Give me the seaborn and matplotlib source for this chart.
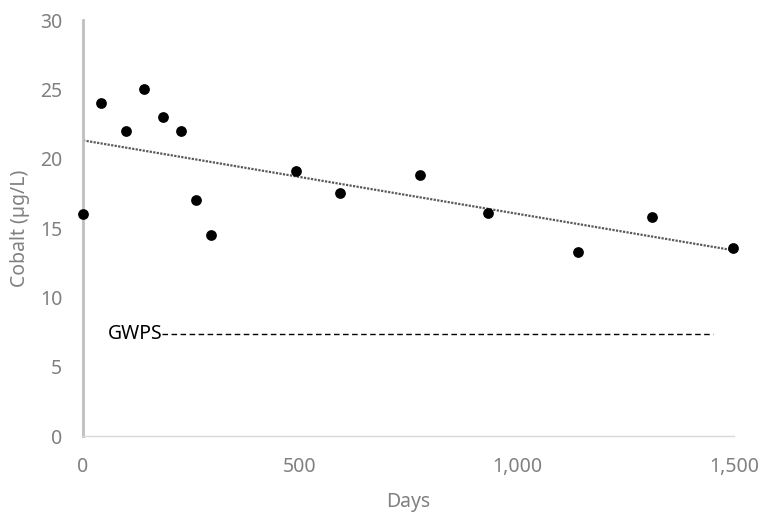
import numpy as np
import pandas as pd
import matplotlib
matplotlib.use("Agg")
import matplotlib.pyplot as plt
import seaborn as sns
from matplotlib.ticker import FuncFormatter

# Cobalt concentrations over time
days = [0, 41, 99, 141, 184, 226, 260, 295, 491, 592, 776, 933, 1140, 1311, 1498]
cobalt = [16.0, 24.0, 22.0, 25.0, 23.0, 22.0, 17.0, 14.5, 19.1, 17.5, 18.8, 16.1, 13.3, 15.8, 13.6]

# Groundwater protection standard reference line
gwps_value = 7.4
gwps_span = [182, 1452]

x_ticks = [0, 500, 1000, 1500]
y_ticks = [0, 5, 10, 15, 20, 25, 30]

df = pd.DataFrame({"Days": days, "Cobalt": cobalt})

sns.set_theme(style="white")
plt.rcParams["font.family"] = ["Noto Sans", "DejaVu Sans"]

fig = plt.figure(figsize=(7.62, 5.15), dpi=100)
ax = fig.add_axes([0.109, 0.153, 0.854, 0.808])

# Linear trendline across the observed range
slope, intercept = np.polyfit(df["Days"], df["Cobalt"], 1)
trend_x = np.array([df["Days"].min(), df["Days"].max()])
sns.lineplot(x=trend_x, y=slope * trend_x + intercept, ax=ax,
             color="#595959", linestyle=(0, (1, 0.6)), linewidth=1.6, zorder=2)

sns.scatterplot(data=df, x="Days", y="Cobalt", ax=ax, color="black",
                s=60, edgecolor="black", linewidth=0, zorder=3, clip_on=False)

ax.plot(gwps_span, [gwps_value, gwps_value], color="black",
        linestyle=(0, (4, 2.5)), linewidth=1.0, zorder=2)
ax.text(gwps_span[0], gwps_value, "GWPS", ha="right", va="center",
        fontsize=14, color="black")

ax.set_xlim(0, 1500)
ax.set_ylim(0, 30)
ax.set_xticks(x_ticks)
ax.set_yticks(y_ticks)
ax.xaxis.set_major_formatter(FuncFormatter(lambda v, p: f"{int(v):,}"))

for side in ["top", "right"]:
    ax.spines[side].set_visible(False)
ax.spines["left"].set_color("#bfbfbf")
ax.spines["left"].set_linewidth(2.0)
ax.spines["bottom"].set_color("#d9d9d9")
ax.spines["bottom"].set_linewidth(1.0)

ax.tick_params(axis="both", length=0, labelsize=14, labelcolor="#808080")
ax.tick_params(axis="x", pad=15)
ax.tick_params(axis="y", pad=15)

ax.set_xlabel("Days", fontsize=14, color="#808080", labelpad=11)
ax.set_ylabel("Cobalt (µg/L)", fontsize=14, color="#808080", labelpad=7)
ax.grid(False)

fig.savefig("out.png", dpi=100)
